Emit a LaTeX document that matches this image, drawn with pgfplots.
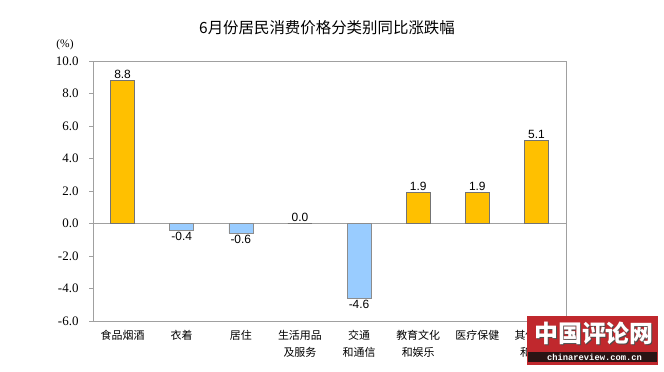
\documentclass[border=0pt]{standalone}
\usepackage{pgfplots}
\pgfplotsset{compat=1.18}
\usepackage{fontspec}
\setmainfont{Liberation Serif}
\newfontfamily\cjk{Noto Sans CJK SC}
\newfontfamily\arial{Liberation Sans}
\newfontfamily\mono{Liberation Mono}
\definecolor{orangebar}{HTML}{FFC000}
\definecolor{bluebar}{HTML}{99CCFF}
\definecolor{axgray}{HTML}{A0A0A0}
\definecolor{wmred}{HTML}{C0282D}
\definecolor{wmdark}{HTML}{2A1414}
\begin{document}
\begin{tikzpicture}[x=1bp,y=1bp]
\path[use as bounding box] (0,0) rectangle (664,-371);
\node[font=\cjk\fontsize{15.5}{17}\selectfont] at (327,-28) {6月份居民消费价格分类别同比涨跌幅};
\node[font=\fontsize{11.5}{12}\selectfont] at (65,-45) {(\%)};
\begin{axis}[
  anchor=north west, at={(93bp,-61bp)},
  width=473bp, height=260bp, scale only axis,
  xmin=-0.5, xmax=7.5, ymin=-6, ymax=10,
  ytick={-6,-4,...,10},
  xtick={0,...,7},
  xticklabels={食品烟酒,衣着,居住,生活用品\\及服务,交通\\和通信,教育文化\\和娱乐,医疗保健,其他用品\\和服务},
  xticklabel style={font=\cjk\fontsize{11}{17}\selectfont, align=center, anchor=north, yshift=-2bp},
  x tick style={draw=none},
  y tick style={axgray},
  ytick pos=left, tick align=outside, major tick length=4bp,
  yticklabel style={font=\fontsize{13}{14}\selectfont, xshift=-7bp},
  /pgf/number format/assume math mode=true,
  yticklabel={\pgfmathprintnumber[fixed,precision=1,zerofill]{\tick}},
  axis line style={axgray},
  ybar, bar width=24bp, bar shift=0pt,
  nodes near coords,
  every node near coord/.append style={font=\arial\fontsize{12}{13}\selectfont, black, inner sep=1.5bp},
  nodes near coords={\pgfmathprintnumber[fixed,precision=1,zerofill]{\pgfplotspointmeta}},
  clip=false,
]
\draw[axgray] (axis cs:-0.5,0) -- (axis cs:7.5,0);
\addplot[fill=orangebar, draw=black!55, every node near coord/.append style={anchor=south}]
  coordinates {(0,8.8) (3,0.0) (5,1.9) (6,1.9) (7,5.1)};
\addplot[fill=bluebar, draw=black!45, every node near coord/.append style={anchor=north}]
  coordinates {(1,-0.4) (2,-0.6) (4,-4.6)};
\end{axis}
\fill[wmred] (527,-316) rectangle (658,-365);
\fill[wmdark] (528,-352) rectangle (657,-362);
\node[black!70, font=\cjk\bfseries\fontsize{24}{26}\selectfont] at (595,-334.5) {中国评论网};
\node[white, font=\cjk\bfseries\fontsize{24}{26}\selectfont] at (594,-333.5) {中国评论网};
\node[white, font=\mono\bfseries\fontsize{8.8}{9}\selectfont] at (594.5,-357) {chinareview.com.cn};
\end{tikzpicture}
\end{document}
